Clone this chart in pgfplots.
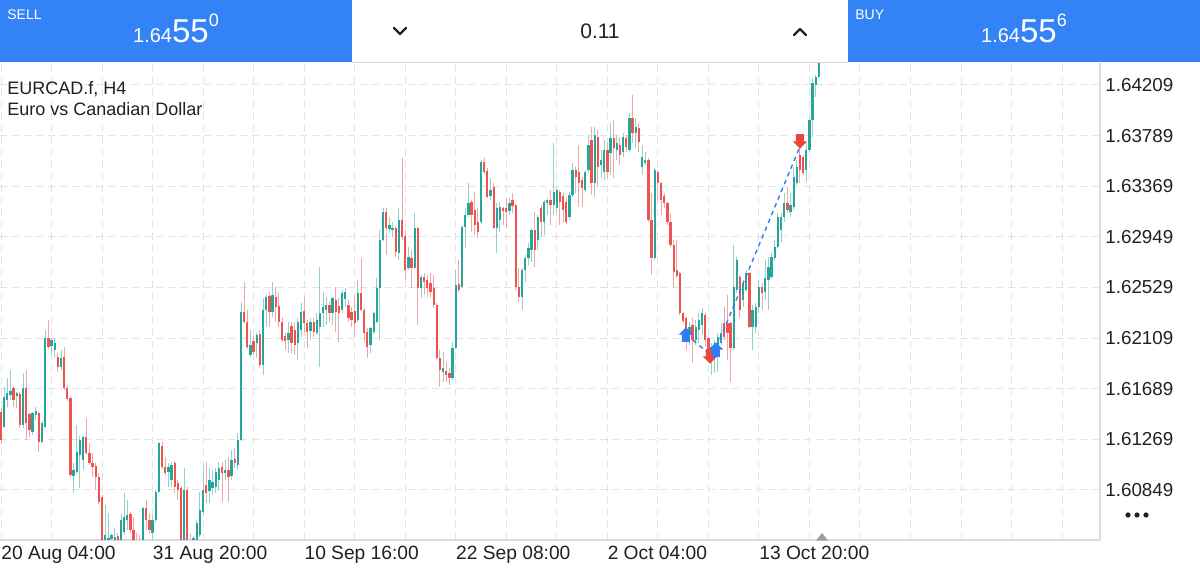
\documentclass[border=0pt]{standalone}
\usepackage{fontspec}
\setmainfont{Liberation Sans}
\usepackage{pgfplots}
\usepackage{pgfplotstable}
\pgfplotsset{compat=1.18}
\definecolor{upc}{RGB}{38,166,154}
\definecolor{dnc}{RGB}{239,83,80}
\definecolor{upw}{RGB}{150,208,202}
\definecolor{dnw}{RGB}{240,168,166}
\definecolor{barblue}{RGB}{52,131,246}
\definecolor{arrowblue}{RGB}{45,125,245}
\definecolor{arrowred}{RGB}{235,70,62}
\definecolor{gridc}{RGB}{226,226,226}
\definecolor{borderc}{RGB}{218,218,218}
\definecolor{txt}{RGB}{33,33,33}

\pgfdeclareplotmark{buyarrow}{%
  \pgfpathmoveto{\pgfpoint{-3.6pt}{0.2pt}}%
  \pgfpathlineto{\pgfpoint{0pt}{3.8pt}}%
  \pgfpathlineto{\pgfpoint{3.6pt}{0.2pt}}%
  \pgfpathlineto{\pgfpoint{2pt}{0.2pt}}%
  \pgfpathlineto{\pgfpoint{2pt}{-3.4pt}}%
  \pgfpathlineto{\pgfpoint{-2pt}{-3.4pt}}%
  \pgfpathlineto{\pgfpoint{-2pt}{0.2pt}}%
  \pgfpathclose\pgfusepathqfill}
\pgfdeclareplotmark{sellarrow}{%
  \pgfpathmoveto{\pgfpoint{-3.6pt}{-0.2pt}}%
  \pgfpathlineto{\pgfpoint{0pt}{-3.8pt}}%
  \pgfpathlineto{\pgfpoint{3.6pt}{-0.2pt}}%
  \pgfpathlineto{\pgfpoint{2pt}{-0.2pt}}%
  \pgfpathlineto{\pgfpoint{2pt}{3.4pt}}%
  \pgfpathlineto{\pgfpoint{-2pt}{3.4pt}}%
  \pgfpathlineto{\pgfpoint{-2pt}{-0.2pt}}%
  \pgfpathclose\pgfusepathqfill}

\pgfplotsset{
  candle/.style 2 args={forget plot, draw=none, mark=none,
    error bars/.cd, y dir=minus, y explicit, error mark=none,
    error bar style={draw=#1, line width=#2}},
}

% rising candles: index open high low close
\pgfplotstableread{
i o h l c
1 1.61372 1.61703 1.61363 1.61621
2 1.61596 1.61778 1.61538 1.61654
3 1.61637 1.61844 1.61596 1.61670
5 1.61629 1.61662 1.61529 1.61654
7 1.61388 1.61820 1.61363 1.61695
10 1.61330 1.61496 1.61305 1.61488
11 1.61471 1.61538 1.61430 1.61504
13 1.61247 1.61421 1.61239 1.61405
14 1.61372 1.62176 1.61363 1.62110
16 1.62044 1.62110 1.61969 1.62093
17 1.62010 1.62110 1.61944 1.62069
19 1.61869 1.62010 1.61844 1.61944
23 1.60965 1.61073 1.60824 1.61015
24 1.60998 1.61388 1.60982 1.61164
25 1.61139 1.61297 1.60866 1.61264
26 1.61098 1.61297 1.61015 1.61289
33 1.60335 1.60725 1.60268 1.60476
34 1.60368 1.60658 1.60310 1.60451
35 1.60442 1.60492 1.60368 1.60476
36 1.60418 1.60534 1.60351 1.60459
38 1.60393 1.60658 1.60368 1.60600
39 1.60500 1.60824 1.60476 1.60625
40 1.60600 1.60766 1.60517 1.60642
45 1.60368 1.60708 1.60351 1.60700
48 1.60492 1.60642 1.60434 1.60600
49 1.60600 1.60849 1.60584 1.60832
50 1.60832 1.61247 1.60824 1.61239
53 1.60998 1.61073 1.60874 1.61040
54 1.60932 1.61081 1.60874 1.61056
58 1.60351 1.61031 1.60326 1.60849
60 1.60393 1.60492 1.60351 1.60434
61 1.60418 1.60467 1.60368 1.60451
62 1.60393 1.60600 1.60368 1.60575
63 1.60476 1.60832 1.60459 1.60683
64 1.60666 1.61056 1.60642 1.60849
66 1.60841 1.61031 1.60741 1.60932
67 1.60866 1.61015 1.60808 1.60915
68 1.60874 1.61031 1.60824 1.60998
69 1.60932 1.61081 1.60849 1.61031
71 1.60990 1.61098 1.60932 1.61015
73 1.60965 1.61181 1.60932 1.61098
75 1.61056 1.61322 1.61015 1.61264
76 1.61264 1.62409 1.61256 1.62326
79 1.61969 1.62176 1.61952 1.62052
81 1.62069 1.62151 1.61944 1.62135
83 1.61886 1.62442 1.61803 1.62342
84 1.62342 1.62467 1.62201 1.62450
86 1.62326 1.62575 1.62284 1.62467
91 1.62093 1.62243 1.61986 1.62151
94 1.62069 1.62276 1.61927 1.62243
95 1.62176 1.62400 1.62118 1.62326
98 1.62168 1.62276 1.62093 1.62243
100 1.62151 1.62317 1.62135 1.62259
101 1.62201 1.62699 1.61869 1.62317
102 1.62317 1.62492 1.62201 1.62367
103 1.62342 1.62450 1.62218 1.62384
105 1.62317 1.62450 1.62218 1.62442
108 1.62342 1.62508 1.62317 1.62483
109 1.62434 1.62525 1.62367 1.62492
113 1.62259 1.62591 1.62243 1.62483
117 1.62052 1.62201 1.61986 1.62193
118 1.62160 1.62326 1.62143 1.62317
119 1.62243 1.62608 1.62234 1.62525
120 1.62525 1.63006 1.62093 1.62923
121 1.62923 1.63188 1.62915 1.63155
123 1.63014 1.63114 1.62981 1.63047
124 1.63006 1.63072 1.62948 1.63023
126 1.62815 1.63188 1.62757 1.63089
129 1.62691 1.62865 1.62674 1.62782
131 1.62691 1.63147 1.62682 1.63023
133 1.62525 1.62633 1.62442 1.62616
140 1.61828 1.61994 1.61745 1.61861
143 1.61778 1.62077 1.61762 1.62027
144 1.62027 1.62674 1.62019 1.62550
146 1.62533 1.63047 1.62525 1.63031
147 1.63031 1.63188 1.62857 1.63130
148 1.63130 1.63396 1.63114 1.63230
152 1.63072 1.63587 1.63056 1.63570
155 1.63288 1.63437 1.63255 1.63338
157 1.63023 1.63230 1.62815 1.63188
158 1.63089 1.63238 1.62989 1.63197
161 1.63164 1.63271 1.63130 1.63230
165 1.62450 1.62691 1.62342 1.62674
166 1.62674 1.62799 1.62575 1.62774
167 1.62774 1.62898 1.62716 1.62857
168 1.62840 1.63023 1.62740 1.63006
170 1.62923 1.63130 1.62840 1.63114
172 1.63072 1.63255 1.62964 1.63238
173 1.63230 1.63271 1.63130 1.63255
175 1.63213 1.63728 1.63130 1.63321
176 1.63188 1.63354 1.63147 1.63338
180 1.63114 1.63321 1.63089 1.63296
181 1.63296 1.63562 1.63280 1.63504
185 1.63338 1.63504 1.63321 1.63487
186 1.63504 1.63794 1.63479 1.63711
188 1.63396 1.63860 1.63280 1.63794
190 1.63545 1.63670 1.63437 1.63587
191 1.63487 1.63753 1.63421 1.63670
193 1.63645 1.63894 1.63462 1.63769
195 1.63670 1.63794 1.63587 1.63728
197 1.63653 1.63811 1.63612 1.63777
199 1.63670 1.63977 1.63653 1.63935
201 1.63811 1.63935 1.63686 1.63860
203 1.63529 1.63711 1.63462 1.63612
204 1.63562 1.63653 1.63545 1.63587
207 1.62774 1.63520 1.62757 1.63504
218 1.62135 1.62243 1.62052 1.62201
220 1.62093 1.62259 1.62052 1.62201
221 1.62176 1.62317 1.62069 1.62259
222 1.62218 1.62359 1.62135 1.62317
225 1.61927 1.62069 1.61803 1.62035
226 1.61994 1.62093 1.61820 1.62069
227 1.62035 1.62151 1.61828 1.62118
228 1.62069 1.62234 1.62052 1.62151
232 1.62027 1.62882 1.62010 1.62533
233 1.62508 1.62782 1.62483 1.62757
235 1.62425 1.62591 1.62367 1.62566
236 1.62508 1.62674 1.62492 1.62649
238 1.62201 1.62384 1.62010 1.62342
239 1.62201 1.62400 1.62151 1.62367
240 1.62367 1.62591 1.62317 1.62533
242 1.62492 1.62757 1.62425 1.62608
243 1.62591 1.62782 1.62342 1.62699
244 1.62616 1.62815 1.62599 1.62782
245 1.62774 1.62923 1.62757 1.62865
246 1.62865 1.63147 1.62857 1.63114
247 1.63006 1.63147 1.62906 1.63114
248 1.63114 1.63313 1.63072 1.63230
250 1.63155 1.63313 1.63114 1.63213
251 1.63197 1.63529 1.63172 1.63446
252 1.63396 1.63587 1.63379 1.63529
255 1.63504 1.63728 1.63404 1.63670
256 1.63670 1.63935 1.63653 1.63919
257 1.63919 1.64267 1.63777 1.64225
258 1.64209 1.64292 1.64109 1.64275
259 1.64275 1.64566 1.64267 1.64550
}\upt

% falling candles: index open high low close
\pgfplotstableread{
i o h l c
0 1.61496 1.61529 1.61231 1.61264
4 1.61695 1.61712 1.61538 1.61596
6 1.61645 1.61662 1.61363 1.61388
8 1.61695 1.61844 1.61264 1.61405
9 1.61479 1.61496 1.61289 1.61347
12 1.61488 1.61496 1.61164 1.61247
15 1.62110 1.62259 1.62019 1.62035
18 1.61952 1.61986 1.61828 1.61869
20 1.61952 1.62035 1.61679 1.61695
21 1.61695 1.61720 1.61587 1.61604
22 1.61612 1.61629 1.60957 1.60973
27 1.61289 1.61446 1.61139 1.61156
28 1.61156 1.61239 1.61056 1.61073
29 1.61073 1.61156 1.60957 1.61040
30 1.61048 1.61073 1.60849 1.60957
31 1.60957 1.60990 1.60733 1.60749
32 1.60791 1.60808 1.60351 1.60393
37 1.60467 1.60492 1.60335 1.60393
41 1.60650 1.60666 1.60492 1.60517
42 1.60517 1.60625 1.60368 1.60418
43 1.60434 1.60492 1.60335 1.60368
44 1.60418 1.60476 1.60301 1.60351
46 1.60700 1.60766 1.60517 1.60600
47 1.60600 1.60658 1.60484 1.60517
51 1.61214 1.61247 1.61023 1.61040
52 1.61040 1.61123 1.60973 1.60990
55 1.61073 1.61090 1.60824 1.60874
56 1.60907 1.60932 1.60766 1.60849
57 1.60866 1.60882 1.60351 1.60393
59 1.60849 1.60874 1.60310 1.60368
65 1.60890 1.61081 1.60741 1.60824
70 1.61040 1.61081 1.60749 1.60990
72 1.61015 1.61123 1.60749 1.60957
74 1.61106 1.61197 1.61031 1.61073
77 1.62326 1.62575 1.62234 1.62243
78 1.62243 1.62342 1.62019 1.62035
80 1.62085 1.62127 1.61969 1.61994
82 1.62143 1.62176 1.61869 1.61886
85 1.62458 1.62492 1.62201 1.62326
87 1.62450 1.62533 1.62243 1.62367
88 1.62375 1.62483 1.62201 1.62243
89 1.62243 1.62284 1.62077 1.62093
90 1.62127 1.62151 1.62010 1.62085
92 1.62210 1.62243 1.61986 1.62069
93 1.62176 1.62234 1.61969 1.62052
96 1.62334 1.62450 1.62151 1.62234
97 1.62234 1.62259 1.62027 1.62160
99 1.62243 1.62276 1.62118 1.62160
104 1.62384 1.62409 1.62243 1.62317
106 1.62425 1.62533 1.62160 1.62326
107 1.62375 1.62442 1.62077 1.62317
110 1.62384 1.62425 1.62243 1.62276
111 1.62326 1.62367 1.62201 1.62259
112 1.62334 1.62450 1.62118 1.62234
114 1.62483 1.62774 1.62334 1.62342
115 1.62342 1.62359 1.62077 1.62151
116 1.62160 1.62193 1.61944 1.62035
122 1.63155 1.63188 1.62799 1.63023
125 1.63023 1.63039 1.62782 1.62823
127 1.63089 1.63603 1.62923 1.62948
128 1.62956 1.63006 1.62591 1.62674
130 1.62774 1.62840 1.62525 1.62691
132 1.63023 1.63031 1.62218 1.62525
134 1.62616 1.62649 1.62467 1.62575
135 1.62591 1.62633 1.62450 1.62525
136 1.62566 1.62649 1.62442 1.62492
137 1.62525 1.62633 1.62359 1.62384
138 1.62384 1.62400 1.61927 1.61944
139 1.61944 1.62010 1.61703 1.61844
141 1.61836 1.61911 1.61745 1.61803
142 1.61820 1.61861 1.61720 1.61778
145 1.62558 1.62757 1.62492 1.62508
149 1.63238 1.63255 1.62989 1.63130
150 1.63172 1.63321 1.62964 1.63047
151 1.63072 1.63188 1.62940 1.62989
153 1.63570 1.63603 1.63471 1.63487
154 1.63495 1.63520 1.63271 1.63280
156 1.63363 1.63396 1.63014 1.63023
159 1.63188 1.63197 1.63047 1.63164
160 1.63188 1.63271 1.63023 1.63155
162 1.63255 1.63313 1.63147 1.63205
163 1.63213 1.63222 1.62508 1.62533
164 1.62533 1.62691 1.62409 1.62450
169 1.63006 1.63155 1.62699 1.62840
171 1.63188 1.63213 1.62948 1.63072
174 1.63255 1.63338 1.63047 1.63213
177 1.63321 1.63338 1.63047 1.63238
178 1.63288 1.63313 1.63064 1.63172
179 1.63238 1.63280 1.63056 1.63072
182 1.63504 1.63529 1.63313 1.63446
183 1.63487 1.63711 1.63197 1.63396
184 1.63421 1.63446 1.63197 1.63354
187 1.63753 1.63860 1.63296 1.63396
189 1.63777 1.63836 1.63363 1.63529
192 1.63670 1.63728 1.63437 1.63487
194 1.63769 1.63919 1.63437 1.63686
196 1.63711 1.63777 1.63545 1.63628
198 1.63769 1.63794 1.63653 1.63695
200 1.63935 1.64126 1.63728 1.63811
202 1.63852 1.63894 1.63653 1.63736
205 1.63587 1.63603 1.63072 1.63089
206 1.63089 1.63313 1.62633 1.62774
208 1.63487 1.63504 1.63255 1.63396
209 1.63396 1.63404 1.63130 1.63255
210 1.63288 1.63313 1.63188 1.63230
211 1.63230 1.63238 1.63047 1.63072
212 1.63072 1.63147 1.62865 1.62882
213 1.62882 1.62923 1.62533 1.62657
214 1.62674 1.62923 1.62608 1.62624
215 1.62649 1.62657 1.62301 1.62317
216 1.62317 1.62326 1.62234 1.62251
217 1.62276 1.62284 1.62010 1.62176
219 1.62218 1.62276 1.61903 1.62093
223 1.62301 1.62317 1.62035 1.62093
224 1.62110 1.62118 1.61911 1.61986
229 1.62234 1.62367 1.62093 1.62118
230 1.62234 1.62467 1.61927 1.62151
231 1.62234 1.62251 1.61745 1.62027
234 1.62616 1.62633 1.62276 1.62342
237 1.62649 1.62657 1.62193 1.62201
241 1.62533 1.62566 1.62342 1.62483
249 1.63230 1.63363 1.63147 1.63172
253 1.63628 1.63686 1.63396 1.63504
254 1.63612 1.63628 1.63462 1.63479
}\dnt

\begin{document}
\begin{tikzpicture}
\useasboundingbox (0,0) rectangle (600pt,284pt);
\fill[white] (0,0) rectangle (600pt,284pt);
\begin{axis}[
  at={(0pt,14pt)}, anchor=south west,
  scale only axis, width=550pt, height=238.5pt,
  xmin=-0.317, xmax=348.0,
  ymin=1.604342, ymax=1.643913,
  axis x line*=bottom, axis y line*=right,
  axis line style={borderc, line width=0.6pt, -},
  xtick={0,16,...,336},
  xticklabels={20 Aug 04:00,,,31 Aug 20:00,,,10 Sep 16:00,,,22 Sep 08:00,,,2 Oct 04:00,,,13 Oct 20:00,,,,,,},
  ytick={1.60849,1.61269,1.61689,1.62109,1.62529,1.62949,1.63369,1.63789,1.64209},
  yticklabels={1.60849,1.61269,1.61689,1.62109,1.62529,1.62949,1.63369,1.63789,1.64209},
  /pgf/number format/assume math mode=true,
  major tick length=0pt,
  xmajorgrids, ymajorgrids,
  grid style={gridc, dash pattern=on 3.5pt off 2.5pt, line width=0.5pt},
  xticklabel style={anchor=north west, inner sep=0pt, yshift=-3pt, font=\fontsize{9.6pt}{11pt}\selectfont, text=txt},
  yticklabel style={anchor=west, inner sep=0pt, xshift=2.5pt, font=\fontsize{9.4pt}{11pt}\selectfont, text=txt},
  clip=true,
]
% wicks
\addplot[candle={upw}{0.5pt}] table[x=i, y=h, y error minus expr=\thisrow{h}-\thisrow{l}] {\upt};
\addplot[candle={dnw}{0.5pt}] table[x=i, y=h, y error minus expr=\thisrow{h}-\thisrow{l}] {\dnt};
% bodies
\addplot[candle={upc}{1.15pt}] table[x=i, y=c, y error minus expr=\thisrow{c}-\thisrow{o}] {\upt};
\addplot[candle={dnc}{1.15pt}] table[x=i, y=o, y error minus expr=\thisrow{o}-\thisrow{c}] {\dnt};
% trade lines
\addplot[arrowblue, line width=0.7pt, dash pattern=on 2.2pt off 2pt] coordinates {(219.1,1.62093) (223.9,1.61986)};
\addplot[arrowblue, line width=0.7pt, dash pattern=on 2.2pt off 2pt] coordinates {(226.6,1.62035) (252.8,1.63686)};
% trade arrows
\addplot[only marks, mark=sellarrow, color=arrowred] coordinates {(224.5,1.61961) (253.0,1.63744)};
\addplot[only marks, mark=buyarrow, color=arrowblue] coordinates {(216.9,1.62135) (226.4,1.62010)};
\end{axis}

\begin{scope}[shift={(0,284pt)}, x=0.5pt, y=-0.5pt]
  \fill[barblue] (0,0) rectangle (352,62);
  \fill[barblue] (848,0) rectangle (1200,62);
  \fill[white] (352,0) rectangle (848,62);
  \draw[borderc, line width=0.6pt] (352,62.3) -- (848,62.3);
  \node[anchor=base west, inner sep=0pt, text=white, font=\fontsize{7pt}{8pt}\selectfont] at (7,20) {SELL};
  \node[anchor=base west, inner sep=0pt, text=white, font=\fontsize{7pt}{8pt}\selectfont] at (855,20) {BUY};
  \node[anchor=base, inner sep=0pt, text=white] at (176,43)
    {{\fontsize{10pt}{12pt}\selectfont 1.64}{\fontsize{16.5pt}{17pt}\selectfont 55}\raisebox{8pt}{\fontsize{9pt}{10pt}\selectfont 0}};
  \node[anchor=base, inner sep=0pt, text=white] at (1024,43)
    {{\fontsize{10pt}{12pt}\selectfont 1.64}{\fontsize{16.5pt}{17pt}\selectfont 55}\raisebox{8pt}{\fontsize{9pt}{10pt}\selectfont 6}};
  \node[anchor=base, inner sep=0pt, text=txt, font=\fontsize{10.5pt}{12pt}\selectfont] at (600,39) {0.11};
  \draw[txt, line width=1.2pt, line cap=round, line join=round] (394,28) -- (400,34) -- (406,28);
  \draw[txt, line width=1.2pt, line cap=round, line join=round] (794,35) -- (800,29) -- (806,35);
  \node[anchor=base west, inner sep=0pt, text=txt, font=\fontsize{9pt}{11pt}\selectfont] at (7,95) {EURCAD.f, H4};
  \node[anchor=base west, inner sep=0pt, text=txt, font=\fontsize{9pt}{11pt}\selectfont] at (7,116) {Euro vs Canadian Dollar};
  \fill[gray!75] (816,540.5) -- (828,540.5) -- (822,533) -- cycle;
  \fill[txt] (1128,515) circle (1.3pt);
  \fill[txt] (1137,515) circle (1.3pt);
  \fill[txt] (1146,515) circle (1.3pt);
\end{scope}
\end{tikzpicture}
\end{document}
